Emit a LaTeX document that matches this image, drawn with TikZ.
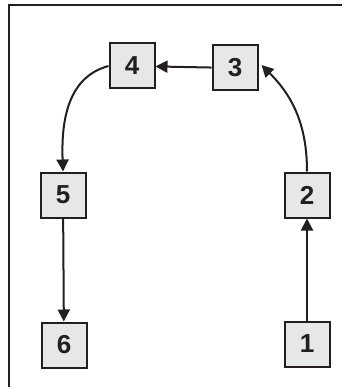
\documentclass[tikz,border=0pt]{standalone}
\usepackage{fontspec}
\setmainfont{Liberation Sans}
\usetikzlibrary{arrows.meta}

\definecolor{boxfill}{RGB}{230,231,232}
\definecolor{ink}{RGB}{35,31,32}

\begin{document}
\begin{tikzpicture}[x=1pt, y=-1pt,
    box/.style={draw=ink, fill=boxfill, line width=2pt, minimum size=45pt, inner sep=0pt,
        font=\fontsize{26}{26}\selectfont\bfseries, text=ink},
    link/.style={draw=ink, line width=2pt, -{Triangle[length=12pt,width=12pt]}}]
            \useasboundingbox (0,0) rectangle (342,387);

            \draw[ink, line width=2pt] (9,387) -- (9,5) -- (342,5);

            \node[box] (n4) at (132,66) {4};
            \node[box] (n3) at (235,68) {3};
            \node[box] (n5) at (63,195) {5};
            \node[box] (n2) at (307,195) {2};
            \node[box] (n6) at (64,345) {6};
            \node[box] (n1) at (307,344) {1};

            \draw[link] (n1) -- (n2);
            \draw[link] (n2.north) to[out=90, in=-45] ([xshift=3pt,yshift=3pt]n3.east);
            \draw[link] (n3) -- (n4);
            \draw[link] (n4.west) to[out=195, in=92] (n5.north);
            \draw[link] (n5) -- (n6);
        \end{tikzpicture}
\end{document}
